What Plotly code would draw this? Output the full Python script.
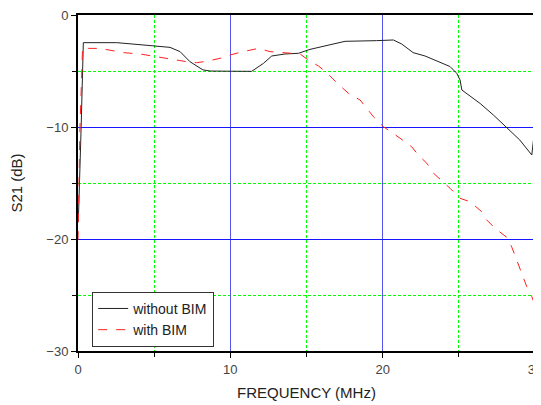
import plotly.graph_objects as go

# without BIM
x_without = [0.02, 0.1, 0.2, 0.35, 1.0, 2.54, 4.07, 5.06, 6.04, 6.7, 7.35, 8.2, 8.67, 10.0, 11.4,
             12.17, 12.72, 13.6, 14.47, 15.23, 16.55, 17.53, 19.6, 20.5, 20.7, 21.25, 22.0, 22.78,
             23.77, 24.42, 24.86, 25.08, 25.2, 25.63, 26.18, 26.4, 27.27, 28.15, 29.0, 29.79, 29.9, 30.0]
y_without = [-18.5, -15.5, -10.3, -2.47, -2.45, -2.47, -2.65, -2.74, -2.89, -3.27, -4.17, -4.9, -5.0, -5.02, -5.03,
             -4.32, -3.66, -3.48, -3.42, -3.07, -2.65, -2.35, -2.29, -2.23, -2.23, -2.59, -3.36, -3.66,
             -4.23, -4.6, -5.2, -5.8, -6.7, -7.14, -7.74, -7.9, -8.93, -10.03, -11.16, -12.5, -11.16, -10.8]

# with BIM
x_with = [0.0, 0.13, 0.3, 0.68, 1.44, 2.32, 2.97, 4.07, 5.17, 6.26, 7.14, 7.79, 8.45, 9.32, 9.98,
          10.85, 11.84, 12.6, 13.7, 14.58, 15.12, 15.78, 16.33, 16.99, 17.75, 18.52, 19.39, 20.05,
          21.14, 21.9, 22.34, 22.9, 23.34, 24.0, 24.43, 25.08, 25.74, 26.5, 26.72, 27.38, 28.15,
          28.47, 28.91, 29.46, 29.79, 30.0]
y_with = [-20.1, -10.0, -2.9, -2.98, -2.98, -3.21, -3.36, -3.48, -3.72, -4.02, -4.17, -4.26, -4.13, -3.87, -3.57,
          -3.27, -2.98, -3.27, -3.42, -3.48, -4.02, -4.55, -5.15, -6.05, -6.99, -7.59, -9.08, -9.97,
          -11.0, -11.76, -12.5, -13.24, -14.13, -14.93, -15.48, -16.37, -16.67, -17.56, -18.15, -19.05, -19.85,
          -20.7, -22.3, -24.26, -25.15, -25.9]

x_ticks = [0, 10, 20, 30]
y_ticks = [0, -10, -20, -30]

fig = go.Figure()
fig.add_trace(go.Scatter(x=x_without, y=y_without, mode="lines", name="without BIM",
                         line=dict(color="#222222", width=1)))
fig.add_trace(go.Scatter(x=x_with, y=y_with, mode="lines", name="with BIM",
                         line=dict(color="#ff2020", width=1, dash="dash")))

# The page body has an 8px default margin, so the figure is sized 8px smaller
font = "Liberation Sans, Arial, sans-serif"
green = "#00ff00"
fig.update_layout(
    width=533, height=397,
    margin=dict(l=70, r=6, t=7, b=54, autoexpand=False),
    paper_bgcolor="white", plot_bgcolor="white",
    font=dict(family=font, size=13, color="#333333"),
    legend=dict(x=0.031, y=0.176, xanchor="left", yanchor="top",
                bordercolor="#333333", borderwidth=1, bgcolor="white",
                font=dict(size=14, color="#222222"), tracegroupgap=0, itemwidth=30),
    showlegend=True,
)
fig.update_xaxes(
    range=[0, 30], tickmode="linear", tick0=x_ticks[0], dtick=x_ticks[1] - x_ticks[0],
    showline=True, linecolor="black", linewidth=2, mirror=True,
    ticks="outside", ticklen=5, tickcolor="black",
    showgrid=True, gridcolor="#5555ee", gridwidth=1,
    minor=dict(dtick=5, tick0=0, ticks="outside", ticklen=4, tickcolor="black",
               showgrid=True, gridcolor=green, griddash="3px,2px", gridwidth=1),
    zeroline=False, automargin=False, ticklabeloverflow="allow",
    title=dict(text="FREQUENCY (MHz)", font=dict(size=15, color="#222222"), standoff=12),
    tickfont=dict(size=13, color="#444444"),
)
fig.update_yaxes(
    range=[-30, 0], tickmode="linear", tick0=y_ticks[0], dtick=y_ticks[0] - y_ticks[1],
    showline=True, linecolor="black", linewidth=2, mirror=True,
    ticks="outside", ticklen=5, tickcolor="black",
    showgrid=True, gridcolor="#1515ff", gridwidth=1,
    minor=dict(dtick=5, tick0=0, ticks="outside", ticklen=4, tickcolor="black",
               showgrid=True, gridcolor=green, griddash="3px,2px", gridwidth=1),
    zeroline=False, automargin=False, ticklabeloverflow="allow",
    title=dict(text="S21 (dB)", font=dict(size=15, color="#222222"), standoff=25),
    tickfont=dict(size=13, color="#444444"),
)

fig.write_html("out.html")
